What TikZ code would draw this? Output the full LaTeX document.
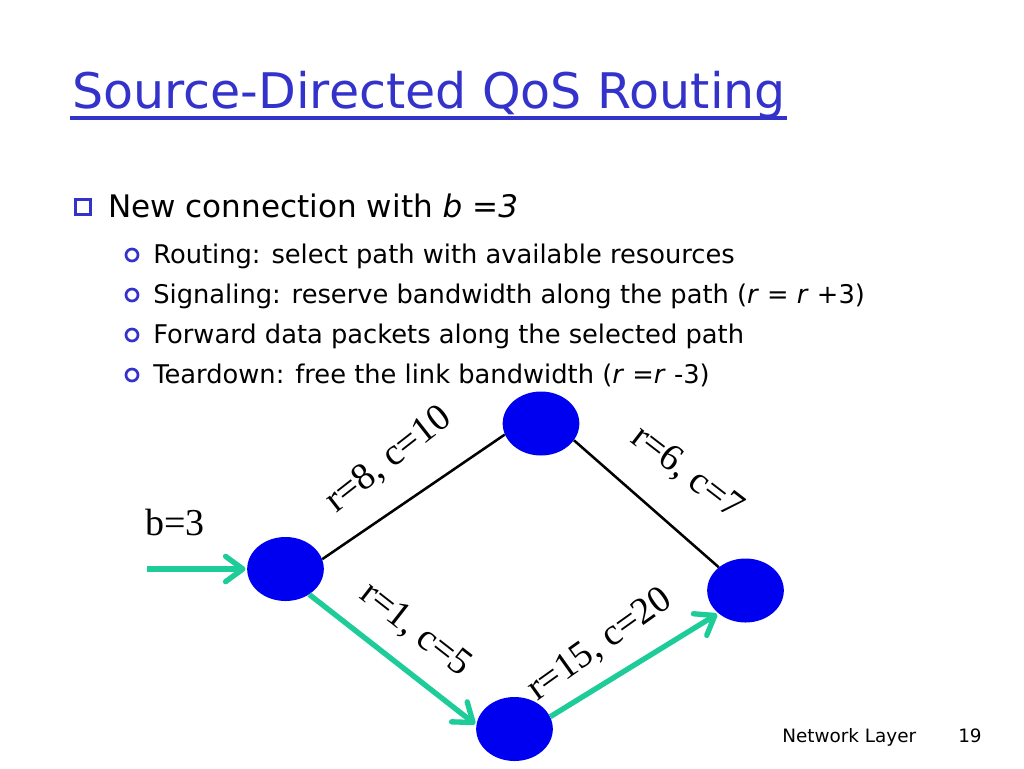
\documentclass[tikz,border=0pt]{standalone}
\usepackage{fontspec}
\setmainfont{DejaVu Sans}
\newfontfamily\tnr{Liberation Serif}
\usetikzlibrary{arrows.meta,shapes.geometric}
\definecolor{titleblue}{RGB}{51,51,204}
\definecolor{nodeblue}{RGB}{0,0,240}
\definecolor{pathgreen}{RGB}{30,204,153}
\begin{document}
\begin{tikzpicture}[x=0.75pt,y=-0.75pt,
  router/.style={ellipse,fill=nodeblue,draw=none,minimum width=57.5pt,minimum height=48pt,inner sep=0pt},
  plain/.style={black,line width=1.9pt},
  chosen/.style={pathgreen,line width=4pt,-{Straight Barb[length=13pt,width=19pt,round]},shorten >=1pt},
  lab/.style={font=\tnr\fontsize{28.5pt}{30pt}\selectfont,inner sep=0pt},
  sub/.style={anchor=base west,inner sep=0pt,font=\fontsize{19.3pt}{22pt}\selectfont},
  ring/.style={circle,draw=titleblue,line width=2pt,minimum size=9pt,inner sep=0pt},
  sq/.style={draw=titleblue,line width=2.1pt,minimum size=11.5pt,inner sep=0pt}]
\fill[white] (0,0) rectangle (1024,768);
\useasboundingbox (0,0) rectangle (1024,768);
% title
\node[anchor=base west,inner sep=0pt,text=titleblue,font=\fontsize{36.8pt}{40pt}\selectfont] (title) at (72,108) {Source-Directed QoS Routing};
\draw[titleblue,line width=2.3pt] (70,118) -- (787,118);
% bullets
\node[sq] (sq1) at (83,207) {};
\node[anchor=base west,inner sep=0pt,font=\fontsize{23.3pt}{26pt}\selectfont] (t0) at (108,217) {New connection with \textit{b} =\textit{3}};
\node[ring] (o1) at (132,255) {};
\node[ring] (o2) at (132,295) {};
\node[ring] (o3) at (132,335) {};
\node[ring] (o4) at (132,375) {};
\node[sub] (t1) at (153,263) {Routing: select path with available resources};
\node[sub] (t2) at (153,303) {Signaling: reserve bandwidth along the path (\textit{r} = \textit{r} +3)};
\node[sub] (t3) at (153,343) {Forward data packets along the selected path};
\node[sub] (t4) at (153,383) {Teardown: free the link bandwidth (\textit{r} =\textit{r} -3)};
% network
\node[router] (A) at (285.5,569) {};
\node[router] (B) at (541,423.5) {};
\node[router] (C) at (514.5,729) {};
\node[router] (D) at (745.5,590.5) {};
\coordinate (in) at (147,569);
\draw[plain] (A.15) -- (B.197);
\draw[plain] (B.-27) -- (D.139);
\draw[chosen] (in) -- (A.west);
\draw[chosen] (A.-47) -- (C.174);
\draw[chosen] (C.19) -- (D.220);
\node[lab,anchor=base] (bl) at (175,535) {b=3};
\node[lab,rotate=38] (l1) at (389,460) {r=8, c=10};
\node[lab,rotate=-37.6] (l2) at (687,473) {r=6, c=7};
\node[lab,rotate=-38] (l3) at (415,630) {r=1, c=5};
\node[lab,rotate=35.5] (l4) at (600,645) {r=15, c=20};
% footer
\node[anchor=base west,inner sep=0pt,font=\fontsize{13.8pt}{16pt}\selectfont] (f1) at (782,742) {Network Layer};
\node[anchor=base west,inner sep=0pt,font=\fontsize{13.8pt}{16pt}\selectfont] (f2) at (958,742) {19};
\end{tikzpicture}
\end{document}
